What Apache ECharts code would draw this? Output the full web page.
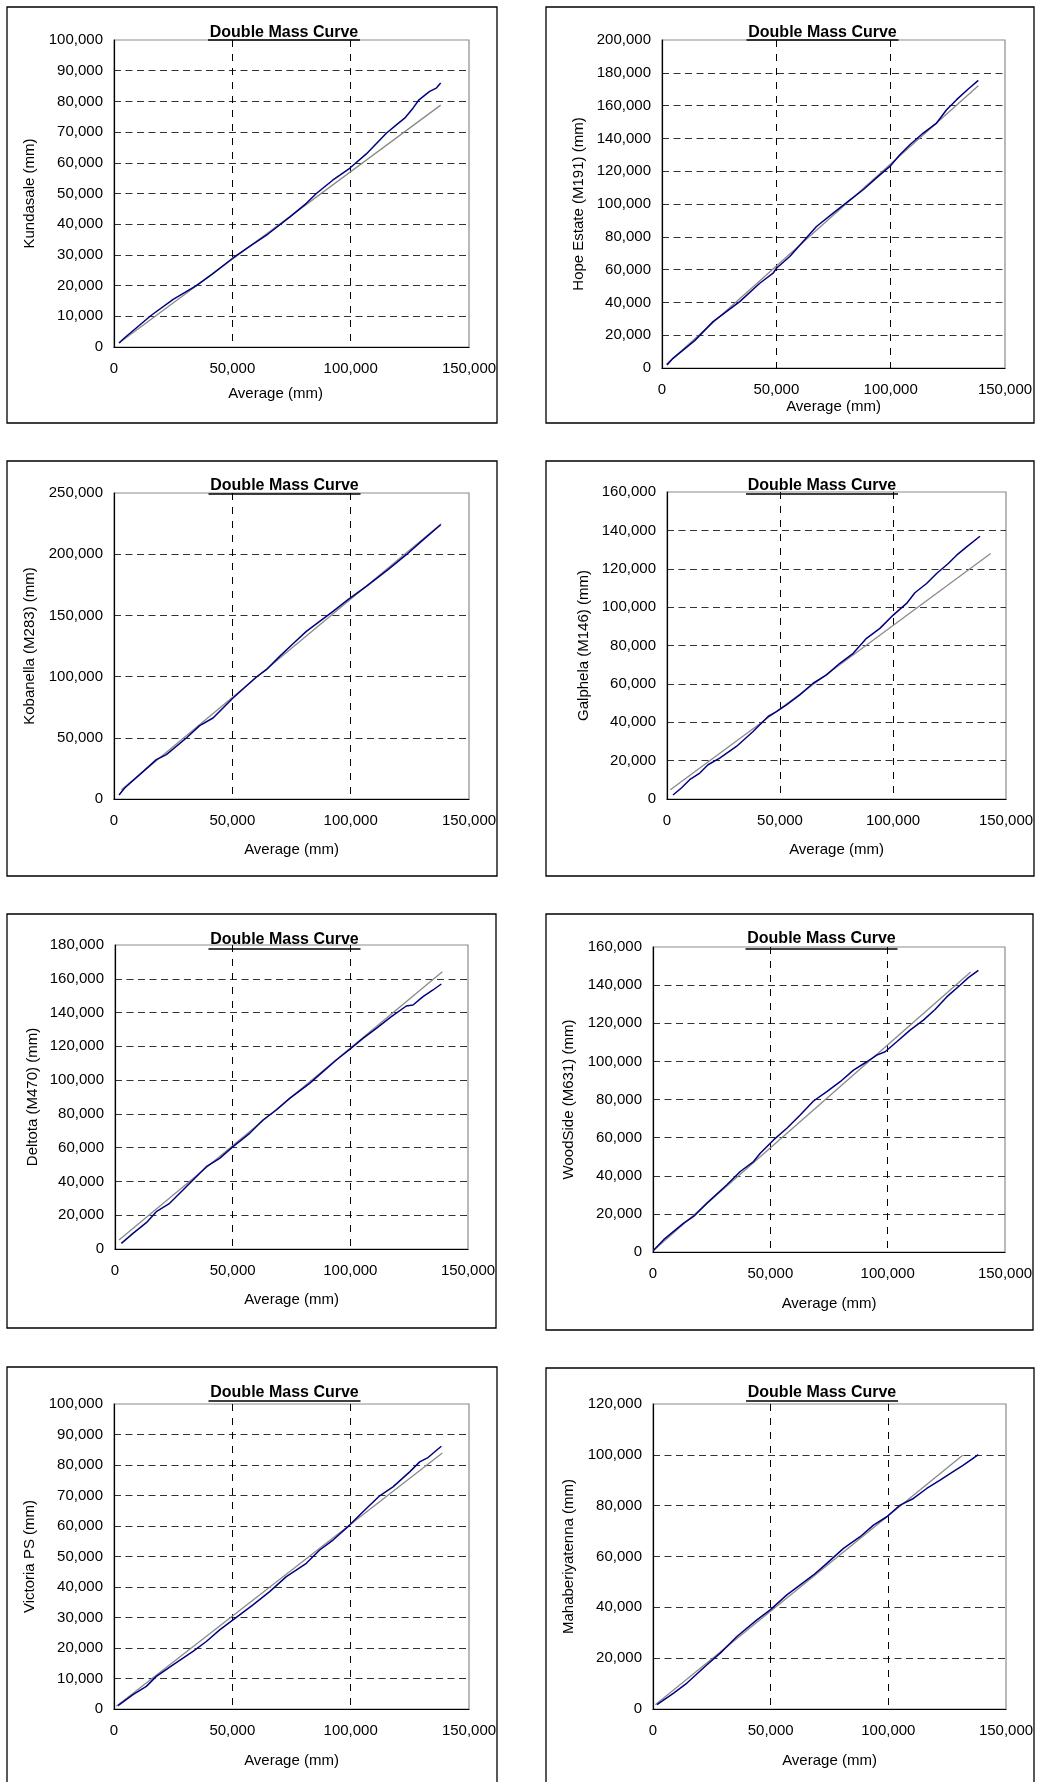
<!DOCTYPE html>
<html>
<head>
<meta charset="utf-8">
<script src="https://cdn.jsdelivr.net/npm/echarts@6/dist/echarts.min.js"></script>
<style>
html,body{margin:0;padding:0;background:#fff;}
#chart{width:1037px;height:1782px;}
</style>
</head>
<body>
<div id="chart"></div>
<script>
// ---------- DATA ----------
const chartTitle = 'Double Mass Curve';
const xAxisName = 'Average (mm)';
const xTickMax = 150000, xTickStep = 50000;

const stationNames = ['Kundasale (mm)', 'Hope Estate (M191) (mm)', 'Kobanella (M283) (mm)', 'Galphela (M146) (mm)',
  'Deltota (M470) (mm)', 'WoodSide (M631) (mm)', 'Victoria PS (mm)', 'Mahaberiyatenna (mm)'];
const yAxisMax = [100000, 200000, 250000, 160000, 180000, 160000, 100000, 120000];
const yAxisStep = [10000, 20000, 50000, 20000, 20000, 20000, 10000, 20000];

// Kundasale
const kundasaleAvg = [2113, 4500, 15775, 25000, 34789, 41500, 50282, 57000, 65070, 74225, 81268, 85493, 92535, 99577, 106620, 115070, 119296, 122817, 126338, 128873, 133380, 136197, 138028];
const kundasaleCum = [1306, 3000, 10337, 15500, 20000, 23721, 29000, 32600, 36800, 42300, 46800, 50000, 54407, 58215, 62895, 69641, 72361, 74538, 77802, 80522, 83243, 84331, 85963];
const kundasaleTrendAvg = [2113, 138028];
const kundasaleTrendCum = [1306, 78781];

// Hope Estate
const hopeAvg = [2189, 4815, 14298, 22323, 33996, 42750, 48587, 50046, 55882, 61718, 67554, 74849, 81415, 87980, 94546, 99653, 104030, 108407, 114243, 120080, 124457, 128835, 133941, 138318];
const hopeCum = [1832, 5900, 16687, 28287, 40497, 51689, 57794, 60847, 67969, 77127, 86284, 94424, 101547, 108669, 116809, 122914, 130037, 136142, 143264, 149369, 157509, 163614, 170126, 175417];
const hopeTrendAvg = [1897, 138318];
const hopeTrendCum = [2239, 172161];

// Kobanella
const kobanellaAvg = [2113, 4507, 10845, 17888, 22113, 30564, 36198, 41832, 46057, 50282, 57325, 60142, 64367, 70001, 75635, 81268, 86902, 92535, 98873, 106620, 115775, 123521, 129859, 138028];
const kobanellaCum = [3268, 8986, 19878, 32131, 36216, 49831, 59906, 66169, 74338, 82507, 94760, 99662, 105652, 116544, 126892, 136967, 145136, 153305, 162835, 173727, 187342, 199596, 210488, 224103];
const kobanellaTrendAvg = [3099, 138310];
const kobanellaTrendCum = [7624, 224920];

// Galphela
const galphelaAvg = [2658, 6349, 10040, 14509, 18160, 23327, 30709, 38091, 44735, 48426, 52856, 58761, 64667, 70572, 76478, 82383, 88289, 94195, 100100, 106006, 109697, 114864, 119293, 124460, 128151, 132580, 138486];
const galphelaCum = [2080, 5720, 10054, 13521, 17855, 21322, 27389, 35190, 42991, 45591, 49058, 54259, 60326, 64660, 70727, 75927, 83728, 88929, 95863, 101930, 107477, 112331, 117531, 122732, 127066, 131400, 136947];
const galphelaTrendAvg = [1476, 143211];
const galphelaTrendCum = [4854, 127932];

// Deltota
const deltotaAvg = [2691, 7649, 13314, 17564, 23229, 28895, 33144, 38809, 44475, 50141, 57223, 62888, 68554, 74219, 79885, 82718, 88383, 94049, 99715, 105380, 111046, 117420, 123793, 126626, 130875, 135124, 138665];
const deltotaCum = [3355, 9276, 15592, 22105, 27039, 34935, 40856, 48750, 53685, 60593, 68487, 76382, 82303, 89211, 95132, 98093, 105001, 111909, 118225, 124738, 130659, 137567, 143883, 144475, 149409, 153357, 156910];
const deltotaTrendAvg = [1700, 139090];
const deltotaTrendCum = [5329, 164212];

// WoodSide
const woodsideAvg = [284, 4541, 13056, 17313, 22990, 31504, 37181, 42857, 45695, 51372, 57048, 62725, 68401, 74078, 79754, 85431, 91107, 95365, 98912, 103879, 109555, 115232, 120199, 125166, 130842, 134390, 138647];
const woodsideCum = [872, 6456, 15180, 18669, 25649, 35245, 42224, 47458, 51820, 58800, 64907, 71886, 79214, 84099, 89334, 95441, 99803, 103293, 105038, 110271, 116378, 121612, 127196, 133826, 139933, 143946, 147784];
const woodsideTrendAvg = [284, 135382];
const woodsideTrendCum = [872, 146912];

// Victoria PS
const victoriaAvg = [1690, 8028, 13662, 17888, 24930, 33381, 39015, 44649, 50282, 58733, 65775, 72818, 81268, 86902, 92535, 99577, 105211, 112253, 117887, 124930, 129155, 132676, 138310];
const victoriaCum = [1090, 4689, 7415, 10687, 14504, 18866, 22137, 25954, 29225, 34133, 38495, 43403, 47764, 52126, 55398, 60305, 64666, 69901, 72845, 77752, 81024, 82442, 86149];
const victoriaTrendAvg = [986, 138733];
const victoriaTrendCum = [872, 83969];

// Mahaberiyatenna
const mahaAvg = [1698, 8774, 14434, 22925, 28585, 35661, 44151, 49812, 56887, 62547, 68208, 73868, 80944, 88020, 93680, 99340, 105001, 110661, 116322, 121982, 126227, 131888, 138256];
const mahaCum = [1701, 6281, 10207, 17404, 21984, 28527, 35071, 38996, 44885, 48811, 52737, 57317, 63206, 67785, 72365, 75637, 80217, 82834, 86760, 90032, 92649, 95920, 100108];
const mahaTrendAvg = [991, 131604];
const mahaTrendCum = [1701, 99847];

const curveAvg = [kundasaleAvg, hopeAvg, kobanellaAvg, galphelaAvg, deltotaAvg, woodsideAvg, victoriaAvg, mahaAvg];
const curveCum = [kundasaleCum, hopeCum, kobanellaCum, galphelaCum, deltotaCum, woodsideCum, victoriaCum, mahaCum];
const trendAvg = [kundasaleTrendAvg, hopeTrendAvg, kobanellaTrendAvg, galphelaTrendAvg, deltotaTrendAvg, woodsideTrendAvg, victoriaTrendAvg, mahaTrendAvg];
const trendCum = [kundasaleTrendCum, hopeTrendCum, kobanellaTrendCum, galphelaTrendCum, deltotaTrendCum, woodsideTrendCum, victoriaTrendCum, mahaTrendCum];

// ---------- LAYOUT ----------
const FONT = '"Liberation Sans", Arial, sans-serif';
// plot areas [left, top, width, height]
const plotBox = [
  [114, 40, 355, 307], [662, 40, 343, 328],
  [114, 493, 355, 306], [667, 492, 339, 307],
  [115, 945, 353, 304], [653, 947, 352, 305],
  [114, 1404, 355, 305], [653, 1404, 353, 305]
];
// panel frames [x, y, w, h]
const frameBox = [
  [7, 7, 490, 416], [546, 7, 488, 416],
  [7, 461, 490, 415], [546, 461, 488, 415],
  [7, 914, 489, 414], [546, 914, 487, 416],
  [7, 1367, 490, 430], [546, 1368, 488, 430]
];
// title center x, caps middle y, underline y
const titlePos = [
  [284, 32.5, 40], [822.5, 32.5, 40],
  [284.5, 486, 494], [822, 486, 494],
  [284.5, 939.5, 949], [821.5, 939, 949],
  [284.5, 1393, 1401], [822, 1393, 1401]
];
const xNameGap = [39, 31, 43, 43, 43, 44, 44, 44];
const xNameShift = [-16, 0, 0, 0, 0, 0, 0, 0];
const yNameGap = [77, 76, 77, 76, 75, 77, 77, 77];

const fmt = v => v.toLocaleString('en-US');

const grids = [], xAxes = [], yAxes = [], series = [], graphics = [];
for (let i = 0; i < 8; i++) {
  const [l, t, w, h] = plotBox[i];
  grids.push({left: l, top: t, width: w, height: h, show: true, borderColor: '#8c8c8c', borderWidth: 1.2, backgroundColor: 'transparent'});
  const sh = xNameShift[i];
  xAxes.push({
    type: 'value', gridIndex: i, min: 0, max: xTickMax, interval: xTickStep,
    name: xAxisName, nameLocation: 'middle', nameGap: xNameGap[i],
    nameTextStyle: {fontFamily: FONT, fontSize: 15, color: '#000',
      padding: sh < 0 ? [0, -2 * sh, 0, 0] : 0},
    axisLine: {show: true, onZero: false, lineStyle: {color: '#000', width: 1.2}},
    axisTick: {show: false},
    axisLabel: {margin: 14, fontFamily: FONT, fontSize: 15, color: '#000', formatter: fmt},
    splitLine: {show: true, showMinLine: false, showMaxLine: false, lineStyle: {color: '#000', width: 1, type: [7, 7]}}
  });
  yAxes.push({
    type: 'value', gridIndex: i, min: 0, max: yAxisMax[i], interval: yAxisStep[i],
    name: stationNames[i], nameLocation: 'middle', nameGap: yNameGap[i],
    nameTextStyle: {fontFamily: FONT, fontSize: 15, color: '#000'},
    axisLine: {show: true, onZero: false, lineStyle: {color: '#000', width: 1.2}},
    axisTick: {show: false},
    axisLabel: {margin: 11, fontFamily: FONT, fontSize: 15, color: '#000', formatter: fmt},
    splitLine: {show: true, showMinLine: false, showMaxLine: false, lineStyle: {color: '#333', width: 1, type: [7, 4.5]}}
  });
  series.push({
    type: 'line', xAxisIndex: i, yAxisIndex: i, showSymbol: false, symbol: 'none', silent: true, z: 3,
    data: trendAvg[i].map((x, k) => [x, trendCum[i][k]]),
    lineStyle: {color: '#8a8a8a', width: 1.3}
  });
  series.push({
    type: 'line', xAxisIndex: i, yAxisIndex: i, showSymbol: false, symbol: 'none', silent: true, z: 4,
    data: curveAvg[i].map((x, k) => [x, curveCum[i][k]]),
    lineStyle: {color: '#000080', width: 1.5}
  });
  const [fx, fy, fw, fh] = frameBox[i];
  graphics.push({type: 'rect', shape: {x: fx, y: fy, width: fw, height: fh}, style: {fill: 'none', stroke: '#000', lineWidth: 1.3}, z: 50, silent: true});
  const [cx, cy, uy] = titlePos[i];
  graphics.push({type: 'text', z: 60, silent: true, style: {text: chartTitle, x: cx, y: cy, textAlign: 'center', textVerticalAlign: 'middle', font: 'bold 16px ' + FONT, fill: '#000'}});
  graphics.push({type: 'line', z: 60, silent: true, shape: {x1: cx - 76, y1: uy, x2: cx + 76, y2: uy}, style: {stroke: '#000', lineWidth: 1.6}});
}

const chart = echarts.init(document.getElementById('chart'), null, {renderer: 'canvas'});
chart.setOption({
  animation: false,
  backgroundColor: '#fff',
  grid: grids,
  xAxis: xAxes,
  yAxis: yAxes,
  series: series,
  graphic: graphics
});
</script>
</body>
</html>
